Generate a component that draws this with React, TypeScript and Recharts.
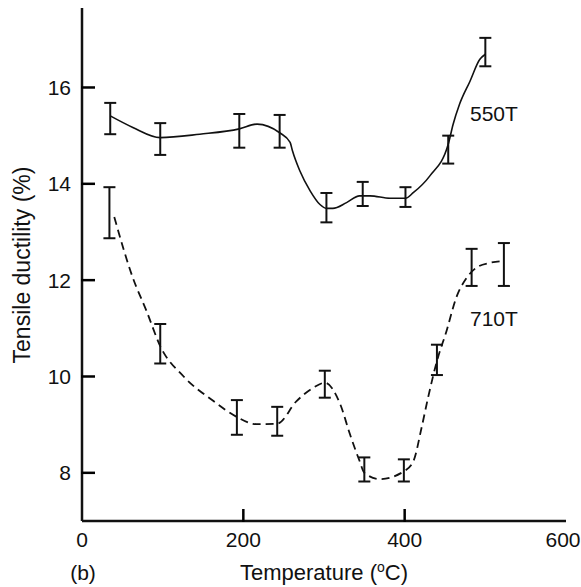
import {
  ComposedChart,
  ErrorBar,
  Line,
  ReferenceDot,
  Scatter,
  XAxis,
  YAxis,
} from "recharts";

const xTicks = [0, 200, 400, 600];
const yTicks = [8, 10, 12, 14, 16];

// 550T fitted curve
const curve550X = [35, 63, 97, 146, 195, 217, 245, 258, 261, 270, 283, 295, 303, 311, 328, 344, 357, 382, 401, 411, 431, 454, 460, 468, 481, 493, 500];
const curve550Y = [15.41, 15.17, 14.96, 15.03, 15.14, 15.24, 15.06, 14.86, 14.68, 14.27, 13.85, 13.57, 13.49, 13.49, 13.61, 13.75, 13.75, 13.7, 13.7, 13.82, 14.16, 14.82, 15.23, 15.65, 16.13, 16.58, 16.69];

// 550T measured points with scatter band
const bars550X = [35, 97, 195, 245, 303, 348, 401, 454, 500];
const bars550Top = [15.68, 15.26, 15.45, 15.43, 13.81, 14.04, 13.93, 15.0, 17.03];
const bars550Bottom = [15.03, 14.6, 14.75, 14.75, 13.2, 13.54, 13.52, 14.42, 16.44];

// 710T fitted curve
const curve710X = [40, 63, 80, 97, 126, 163, 192, 216, 242, 266, 287, 301, 320, 332, 344, 350, 369, 399, 411, 421, 429, 440, 452, 464, 477, 489, 506, 523];
const curve710Y = [13.31, 12.05, 11.36, 10.63, 10.0, 9.49, 9.16, 9.01, 9.02, 9.49, 9.77, 9.87, 9.43, 8.81, 8.25, 8.0, 7.87, 8.03, 8.25, 8.94, 9.56, 10.32, 10.95, 11.64, 12.05, 12.26, 12.36, 12.4];

// 710T measured points
const bars710X = [34, 97, 192, 242, 301, 350, 399, 440, 483, 523];
const bars710Top = [13.93, 11.09, 9.51, 9.37, 10.12, 8.32, 8.28, 10.66, 12.65, 12.77];
const bars710Bottom = [12.87, 10.27, 8.79, 8.77, 9.56, 7.82, 7.82, 10.03, 11.88, 11.88];

const toCurve = (xs: number[], ys: number[]) => xs.map((x, i) => ({ x, y: ys[i] }));
const toBars = (xs: number[], top: number[], bottom: number[]) =>
  xs.map((x, i) => ({ x, y: (top[i] + bottom[i]) / 2, err: (top[i] - bottom[i]) / 2 }));

const curve550 = toCurve(curve550X, curve550Y);
const curve710 = toCurve(curve710X, curve710Y);
const bars550 = toBars(bars550X, bars550Top, bars550Bottom);
const bars710 = toBars(bars710X, bars710Top, bars710Bottom);

const INK = "#111";
const FONT = '"Liberation Sans", Arial, Helvetica, sans-serif';
const X_MIN = 0;
const X_MAX = 600;
const Y_MIN = 7;
const Y_MAX = 17.65;

// ticks point into the plot, like the original
const XTick = (props: any) => {
  const { x, y, payload } = props;
  const v = payload.value;
  const inner = v > X_MIN && v < X_MAX;
  const dx = v === X_MAX ? -3 : 0;
  return (
    <g>
      {inner && <path d={`M${x},${y + 1}v-13`} stroke="#000" strokeWidth={2.5} fill="none" />}
      <text x={x + dx} y={y + 26} textAnchor="middle" fontSize={21} fill={INK}>
        {v}
      </text>
    </g>
  );
};

const YTick = (props: any) => {
  const { x, y, payload } = props;
  return (
    <g>
      <path d={`M${x - 1},${y}h14`} stroke="#000" strokeWidth={2.5} fill="none" />
      <text x={x - 11} y={y} dy="0.36em" textAnchor="end" fontSize={21} fill={INK}>
        {payload.value}
      </text>
    </g>
  );
};

const XTitle = (props: any) => {
  const { x, y, width } = props.viewBox;
  return (
    <g>
      <text x={x + width / 2} y={y + 59} textAnchor="middle" fontSize={22} fill={INK}>
        Temperature (
        <tspan dy={-8} fontSize={14}>o</tspan>
        <tspan dy={8}>C)</tspan>
      </text>
      <text x={83} y={y + 59} textAnchor="middle" fontSize={21} fill={INK}>
        (b)
      </text>
    </g>
  );
};

const YTitle = () => (
  <text
    x={22}
    y={265}
    transform="rotate(-90, 22, 265)"
    textAnchor="middle"
    dominantBaseline="central"
    fontSize={23}
    fill={INK}
  >
    Tensile ductility (%)
  </text>
);

const noDot = () => <g />;

export default function App() {
  return (
    <div style={{ position: "absolute", left: 0, top: 0, fontFamily: FONT, background: "#fff" }}>
      <ComposedChart
        width={581}
        height={587}
        margin={{ top: 8, right: 15, bottom: 0, left: 0 }}
      >
        <XAxis
          dataKey="x"
          type="number"
          domain={[X_MIN, X_MAX]}
          ticks={xTicks}
          allowDataOverflow
          height={66}
          tickSize={0}
          tickMargin={0}
          tick={XTick}
          tickLine={false}
          axisLine={{ stroke: INK, strokeWidth: 2.5 }}
          label={<XTitle />}
        />
        <XAxis
          xAxisId="top"
          orientation="top"
          type="number"
          domain={[X_MIN, X_MAX]}
          height={0}
          tick={false}
          tickLine={false}
          axisLine={{ stroke: INK, strokeWidth: 2.5 }}
        />
        <YAxis
          type="number"
          domain={[Y_MIN, Y_MAX]}
          ticks={yTicks}
          allowDataOverflow
          width={82}
          tickSize={0}
          tickMargin={0}
          tick={YTick}
          tickLine={false}
          axisLine={{ stroke: INK, strokeWidth: 2.5 }}
          label={<YTitle />}
        />
        <YAxis
          yAxisId="right"
          orientation="right"
          type="number"
          domain={[Y_MIN, Y_MAX]}
          width={0}
          tick={false}
          tickLine={false}
          axisLine={{ stroke: INK, strokeWidth: 2.5 }}
        />

        <Line
          data={curve550}
          dataKey="y"
          type="monotone"
          stroke={INK}
          strokeWidth={1.6}
          dot={false}
          activeDot={false}
          isAnimationActive={false}
        />
        <Line
          data={curve710}
          dataKey="y"
          type="monotone"
          stroke={INK}
          strokeWidth={1.8}
          strokeDasharray="8 5"
          dot={false}
          activeDot={false}
          isAnimationActive={false}
        />
        <Scatter data={bars550} dataKey="y" shape={noDot} isAnimationActive={false}>
          <ErrorBar dataKey="err" direction="y" width={6} stroke={INK} strokeWidth={2} isAnimationActive={false} />
        </Scatter>
        <Scatter data={bars710} dataKey="y" shape={noDot} isAnimationActive={false}>
          <ErrorBar dataKey="err" direction="y" width={6} stroke={INK} strokeWidth={2} isAnimationActive={false} />
        </Scatter>

        <ReferenceDot
          x={481}
          y={15.45}
          r={0}
          stroke="none"
          fill="none"
          label={{ value: "550T", position: "right", offset: 0, fontSize: 21, fill: INK }}
        />
        <ReferenceDot
          x={481}
          y={11.2}
          r={0}
          stroke="none"
          fill="none"
          label={{ value: "710T", position: "right", offset: 0, fontSize: 21, fill: INK }}
        />
      </ComposedChart>
    </div>
  );
}
